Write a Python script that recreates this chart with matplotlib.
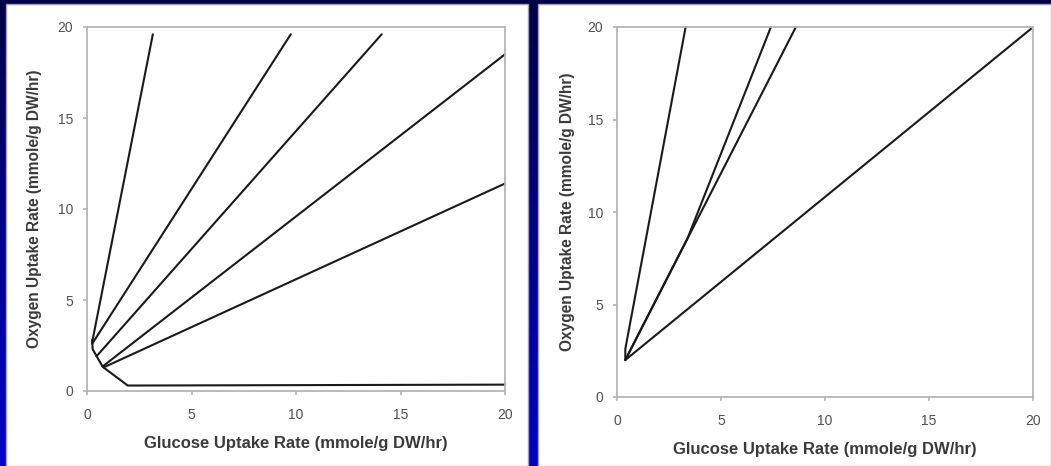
import numpy as np
import matplotlib
matplotlib.use('Agg')
import matplotlib.pyplot as plt
from matplotlib.colors import LinearSegmentedColormap
from matplotlib.patches import Rectangle

plt.rcParams['font.family'] = ['Liberation Sans', 'DejaVu Sans']

# Left panel: phase plane lines (glucose uptake vs oxygen uptake)
left_lines_x = [[0.25, 3.15], [0.25, 9.75], [0.45, 14.1], [0.75, 20.0], [0.8, 20.0]]
left_lines_y = [[2.7, 19.6], [2.6, 19.6], [1.9, 19.6], [1.35, 18.5], [1.3, 11.4]]
left_edge_x = [0.25, 0.27, 0.75, 1.95, 20.0]
left_edge_y = [2.8, 2.3, 1.33, 0.3, 0.35]

# Right panel
right_lines_x = [[0.4, 0.4, 3.3], [0.4, 3.4, 7.4], [0.4, 8.6], [0.4, 19.9]]
right_lines_y = [[2.0, 2.6, 20.0], [2.0, 8.6, 20.0], [2.0, 20.0], [2.0, 19.9]]

ticks = [0, 5, 10, 15, 20]
xlabel = 'Glucose Uptake Rate (mmole/g DW/hr)'
ylabel = 'Oxygen Uptake Rate (mmole/g DW/hr)'

W, H = 1051, 466
fig = plt.figure(figsize=(W / 100, H / 100), dpi=100)

# navy -> blue background
bg = fig.add_axes([0, 0, 1, 1])
cmap = LinearSegmentedColormap.from_list('bg', ['#000048', '#0000c8'])
bg.imshow(np.linspace(0, 1, 256).reshape(-1, 1), aspect='auto', cmap=cmap,
          extent=[0, 1, 0, 1])
bg.set_xlim(0, 1)
bg.set_ylim(0, 1)
bg.axis('off')

# white panels
for x0, x1 in [(6, 528), (538, 1051)]:
    bg.add_patch(Rectangle((x0 / W, 0), (x1 - x0) / W, 462 / H,
                           facecolor='white', edgecolor='#a0a0a0', lw=1))

spine_color = '#b4b4b4'
text_color = '#3a3a3a'
line_color = '#1a1a1a'


def setup(ax, ylpad):
    ax.set_xlim(0, 20)
    ax.set_ylim(0, 20)
    ax.set_xticks(ticks)
    ax.set_yticks(ticks)
    for s in ax.spines.values():
        s.set_color(spine_color)
        s.set_linewidth(1.3)
    ax.tick_params(colors=spine_color, labelcolor='#505050', labelsize=10,
                   length=3, width=1.2, direction='out')
    ax.tick_params(axis='x', pad=9)
    ax.tick_params(axis='y', pad=7)
    ax.set_xlabel(xlabel, fontsize=12, fontweight='bold', color=text_color,
                  labelpad=10)
    ax.set_ylabel(ylabel, fontsize=11.2, fontweight='bold', color=text_color,
                  labelpad=ylpad)


ax1 = fig.add_axes([87 / W, 1 - 391 / H, 418 / W, 364 / H])
setup(ax1, 11)
for xs, ys in zip(left_lines_x, left_lines_y):
    ax1.plot(xs, ys, color=line_color, lw=1.5, solid_capstyle='round')
ax1.plot(left_edge_x, left_edge_y, color=line_color, lw=1.5)

ax2 = fig.add_axes([617 / W, 1 - 397 / H, 416 / W, 370 / H])
setup(ax2, 9)
for xs, ys in zip(right_lines_x, right_lines_y):
    ax2.plot(xs, ys, color=line_color, lw=1.5, solid_capstyle='round')

for ax in (ax1, ax2):
    for ln in ax.lines:
        ln.set_clip_on(False)

fig.savefig('out.png', dpi=100)
